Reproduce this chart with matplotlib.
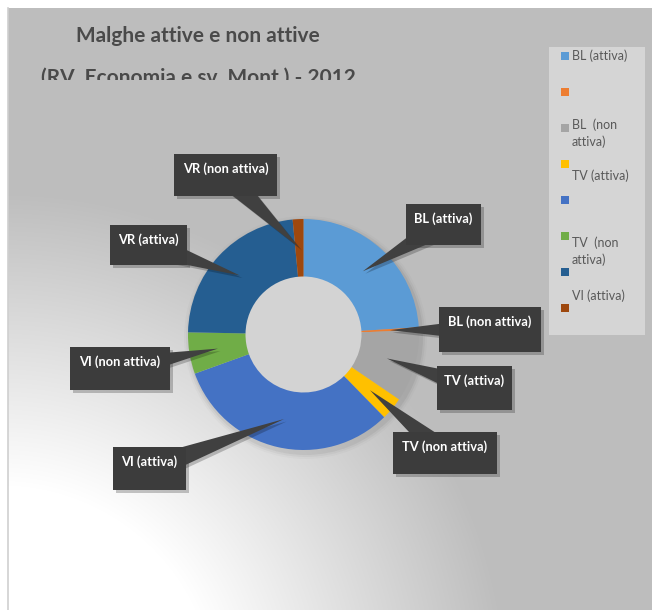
import numpy as np
import matplotlib
matplotlib.use("Agg")
import matplotlib.pyplot as plt
from matplotlib.patches import Rectangle, Polygon, Wedge, Circle

W, H = 653, 610

# ---------------- data ----------------
categories = ["BL (attiva)", "BL (non attiva)", "TV (attiva)", "TV (non attiva)",
              "VI (attiva)", "VI (non attiva)", "VR (attiva)", "VR (non attiva)"]
values = [24.0, 0.4, 10.1, 3.2, 31.8, 5.8, 23.2, 1.5]
colors = ["#5B9BD5", "#ED7D31", "#A5A5A5", "#FFC000",
          "#4472C4", "#70AD47", "#255E91", "#9E480E"]

title = "Malghe attive e non attive"
subtitle = "(RV, Economia e sv. Mont.) - 2012"
legend_texts = ["BL (attiva)", "BL  (non\nattiva)", "TV (attiva)",
                "TV  (non\nattiva)", "VI (attiva)"]

# ---------------- layout (image pixel coords, y downward) ----------------
cx, cy = 303.5, 334.5
R_OUT, R_IN = 115.5, 58.0
label_boxes = [
    (406, 204, 481, 245),   # BL (attiva)
    (439, 307, 541, 352),   # BL (non attiva)
    (437, 366, 512, 410),   # TV (attiva)
    (393, 432, 497, 474),   # TV (non attiva)
    (113, 447, 186, 490),   # VI (attiva)
    (70, 347, 170, 390),    # VI (non attiva)
    (110, 225, 187, 265),   # VR (attiva)
    (174, 154, 277, 196),   # VR (non attiva)
]
legend_sq_top = [52 + 36 * i for i in range(8)]
legend_text_y = [56, 125, 176, 243, 296]

def Y(y):
    return H - y

fig = plt.figure(figsize=(W / 100, H / 100), dpi=100)
ax = fig.add_axes([0, 0, 1, 1])

# ---------------- background gradient ----------------
yy, xx = np.mgrid[0:H, 0:W].astype(float)
d = np.hypot(xx - 0, yy - 700)
v = 1.0 - np.clip((d - 215) / 290.0, 0, 1) * 0.255
img = np.dstack([v, v, v])
outside = (xx < 8) | (yy < 8) | (xx > 651)
img[outside] = 1.0
ax.imshow(img, extent=(0, W, 0, H), origin="upper", zorder=0, interpolation="bilinear")
ax.plot([7.5, 7.5], [Y(8), 0], color="#cfcfcf", lw=1.2, zorder=1)

# ---------------- donut ----------------
for k, a in enumerate([0.05, 0.035, 0.02]):
    rr = R_OUT + 2 + 2 * k
    ax.add_patch(Wedge((cx + 2, Y(cy) - 3), rr, 0, 360, width=rr - R_IN,
                       color="black", alpha=a, lw=0, zorder=1.5))
ax.add_patch(Circle((cx, Y(cy)), R_IN + 1, color="#d3d3d3", lw=0, zorder=1.6))
wedges, _ = ax.pie(values, colors=colors, startangle=90, counterclock=False,
                   radius=R_OUT, center=(cx, Y(cy)),
                   wedgeprops=dict(width=R_OUT - R_IN, linewidth=0))
for w in wedges:
    w.set_zorder(2)

# ---------------- callout labels ----------------
tot = float(sum(values))
cum = np.concatenate([[0], np.cumsum(values)])
r_mid = (R_OUT + R_IN) / 2
for i, cat in enumerate(categories):
    ang = np.deg2rad(90 - 360 * (cum[i] + values[i] / 2) / tot)
    tip = np.array([cx + r_mid * np.cos(ang), Y(cy) + r_mid * np.sin(ang)])
    x0, y0, x1, y1 = label_boxes[i]
    bc = np.array([(x0 + x1) / 2, Y((y0 + y1) / 2)])
    dvec = bc - tip
    dvec /= np.hypot(*dvec)
    perp = np.array([-dvec[1], dvec[0]])
    tri = [tip, bc + perp * 12, bc - perp * 12]
    sh = np.array([2.5, -2.5])
    ax.add_patch(Polygon([p + sh for p in tri], closed=True, color="black",
                         alpha=0.22, lw=0, zorder=3))
    ax.add_patch(Polygon(tri, closed=True, color="#404040", lw=0, zorder=3.5))
    ax.add_patch(Rectangle((x0 + 3, Y(y1) - 3), x1 - x0, y1 - y0, color="black",
                           alpha=0.22, lw=0, zorder=3))
    ax.add_patch(Rectangle((x0, Y(y1)), x1 - x0, y1 - y0, color="#3c3c3c",
                           lw=0, zorder=4))
    ax.text((x0 + x1) / 2, Y(y0 + 15), cat, color="white", fontsize=9.3,
            fontweight="bold", family="Lato", ha="center", va="center", zorder=5)

# ---------------- title ----------------
ax.text(198, Y(36), title, fontsize=15, fontweight="bold", family="Lato",
        color="#4a4a4a", ha="center", va="center", zorder=6)
t2 = ax.text(198, Y(78), subtitle, fontsize=15, fontweight="bold", family="Lato",
             color="#4a4a4a", ha="center", va="center", zorder=6)
t2.set_clip_path(Rectangle((0, Y(79.5)), W, 79.5, transform=ax.transData))
t2.set_clip_on(True)

# ---------------- legend ----------------
ax.add_patch(Rectangle((549, Y(335)), 645 - 549, 335 - 47, color="#d5d5d5",
                       lw=0, zorder=5))
for i, c in enumerate(colors):
    t = legend_sq_top[i]
    ax.add_patch(Rectangle((561, Y(t + 8)), 8, 8, color=c, lw=0, zorder=6))
for txt, ty in zip(legend_texts, legend_text_y):
    for j, line in enumerate(txt.split("\n")):
        ax.text(572, Y(ty + 17 * j), line, fontsize=9, family="Lato",
                color="#595959", ha="left", va="center", zorder=7)

ax.set_xlim(0, W)
ax.set_ylim(0, H)
ax.set_aspect("equal")
ax.axis("off")
fig.savefig("out.png", dpi=100)
